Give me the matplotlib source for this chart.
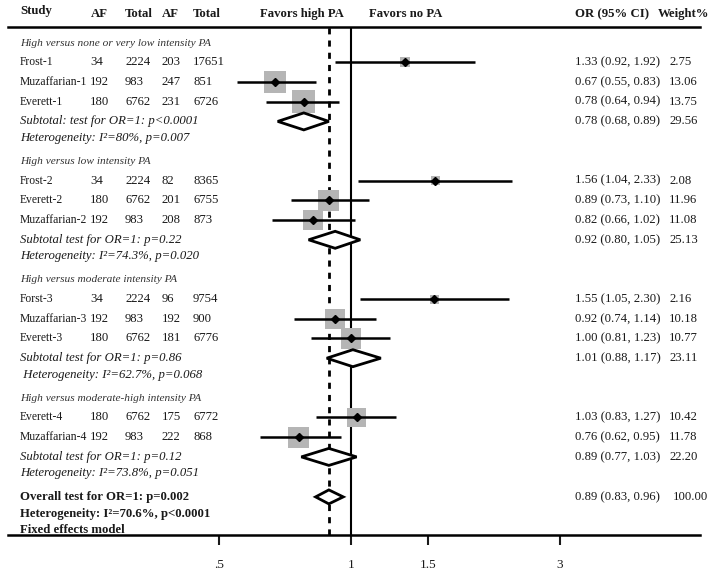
import matplotlib
matplotlib.use('Agg')
import matplotlib.pyplot as plt
from matplotlib.patches import Polygon
import numpy as np

plt.rcParams['font.family'] = ['Liberation Serif', 'DejaVu Serif']

# ---- data -------------------------------------------------------------
headings = [
    'High versus none or very low intensity PA',
    'High versus low intensity PA',
    'High versus moderate intensity PA',
    'High versus moderate-high intensity PA',
]
studies = [
    ['Frost-1', 'Muzaffarian-1', 'Everett-1'],
    ['Frost-2', 'Everett-2', 'Muzaffarian-2'],
    ['Forst-3', 'Muzaffarian-3', 'Everett-3'],
    ['Everett-4', 'Muzaffarian-4'],
]
af_high = [[34, 192, 180], [34, 180, 192], [34, 192, 180], [180, 192]]
tot_high = [[2224, 983, 6762], [2224, 6762, 983], [2224, 983, 6762], [6762, 983]]
af_no = [[203, 247, 231], [82, 201, 208], [96, 192, 181], [175, 222]]
tot_no = [[17651, 851, 6726], [8365, 6755, 873], [9754, 900, 6776], [6772, 868]]
odds = [[1.33, 0.67, 0.78], [1.56, 0.89, 0.82], [1.55, 0.92, 1.00], [1.03, 0.76]]
ci_lo = [[0.92, 0.55, 0.64], [1.04, 0.73, 0.66], [1.05, 0.74, 0.81], [0.83, 0.62]]
ci_hi = [[1.92, 0.83, 0.94], [2.33, 1.10, 1.02], [2.30, 1.14, 1.23], [1.27, 0.95]]
weights = [[2.75, 13.06, 13.75], [2.08, 11.96, 11.08], [2.16, 10.18, 10.77], [10.42, 11.78]]

sub_or = [0.78, 0.92, 1.01, 0.89]
sub_lo = [0.68, 0.80, 0.88, 0.77]
sub_hi = [0.89, 1.05, 1.17, 1.03]
sub_w = [29.56, 25.13, 23.11, 22.20]
sub_test = [
    'Subtotal: test for OR=1: p<0.0001',
    'Subtotal test for OR=1: p=0.22',
    'Subtotal test for OR=1: p=0.86',
    'Subtotal test for OR=1: p=0.12',
]
sub_het = [
    'Heterogeneity: I\u00b2=80%, p=0.007',
    'Heterogeneity: I\u00b2=74.3%, p=0.020',
    ' Heterogeneity: I\u00b2=62.7%, p=0.068',
    'Heterogeneity: I\u00b2=73.8%, p=0.051',
]

overall_or, overall_lo, overall_hi, overall_w = 0.89, 0.83, 0.96, 100.00
overall_lines = [
    'Overall test for OR=1: p=0.002',
    'Heterogeneity: I\u00b2=70.6%, p<0.0001',
    'Fixed effects model',
]

tick_vals = [0.5, 1, 1.5, 3]
tick_labels = ['.5', '1', '1.5', '3']

# ---- figure -----------------------------------------------------------
W, H = 720, 577
fig = plt.figure(figsize=(W / 100, H / 100), dpi=100)

# plotting axes: x in log OR, y in pixel rows
x0, x1, ytop, ybot = 8, 700, 27, 535
ax = fig.add_axes([x0 / W, (H - ybot) / H, (x1 - x0) / W, (ybot - ytop) / H])
px_per_log = 190.0
ax.set_xscale('log')
ax.set_xlim(np.exp((x0 - 351) / px_per_log), np.exp((x1 - 351) / px_per_log))
ax.set_ylim(ybot, ytop)
for s in ['left', 'right']:
    ax.spines[s].set_visible(False)
for s in ['top', 'bottom']:
    ax.spines[s].set_linewidth(1.8)
ax.set_yticks([])
ax.set_xticks(tick_vals)
ax.set_xticklabels(tick_labels)
ax.xaxis.set_minor_locator(matplotlib.ticker.NullLocator())
ax.tick_params(axis='x', direction='out', length=7, width=1.5, pad=10,
               labelsize=9.5, colors='#1a1a1a')
ax.patch.set_alpha(0)

# text overlay in pixel coordinates
tx = fig.add_axes([0, 0, 1, 1], zorder=-1)
tx.set_xlim(0, W)
tx.set_ylim(H, 0)
tx.axis('off')

TXT = '#1a1a1a'
FS = 9.2


def put(x, y, s, **kw):
    kw.setdefault('fontsize', FS)
    kw.setdefault('color', TXT)
    tx.text(x, y, s, va='center', ha='left', **kw)


# header
put(20, 11, 'Study', fontweight='bold')
for xh, lab in [(91, 'AF'), (125, 'Total'), (162, 'AF'), (193, 'Total'),
                (260, 'Favors high PA'), (369, 'Favors no PA'),
                (575, 'OR (95% CI)'), (658, 'Weight%')]:
    put(xh, 14, lab, fontweight='bold')

ax.axvline(1, color='black', lw=1.5, zorder=1)
ax.axvline(overall_or, color='black', lw=2, ls=(0, (2.2, 2.2)), zorder=1)

step = 19.7
y = 43
for g in range(len(headings)):
    put(20, y, headings[g], fontsize=8.2, fontstyle='italic', color='#333333')
    y += 19.3
    for i in range(len(studies[g])):
        put(20, y, studies[g][i], fontsize=8.4)
        put(90, y, str(af_high[g][i]))
        put(125, y, str(tot_high[g][i]))
        put(162, y, str(af_no[g][i]))
        put(193, y, str(tot_no[g][i]))
        put(575, y, '%.2f (%.2f, %.2f)' % (odds[g][i], ci_lo[g][i], ci_hi[g][i]))
        put(669, y, '%.2f' % weights[g][i])
        ax.hlines(y, ci_lo[g][i], ci_hi[g][i], color='black', lw=1.8, zorder=3)
        ax.scatter([odds[g][i]], [y], marker='s', s=19.3 * weights[g][i],
                   color='#b5b5b5', edgecolors='none', zorder=2)
        ax.plot([odds[g][i]], [y], marker='D', ms=3.6, color='black', zorder=4)
        y += step
    put(20, y, sub_test[g], fontstyle='italic')
    put(575, y, '%.2f (%.2f, %.2f)' % (sub_or[g], sub_lo[g], sub_hi[g]))
    put(669, y, '%.2f' % sub_w[g])
    hh = 8.5
    ax.add_patch(Polygon([(sub_lo[g], y), (sub_or[g], y - hh), (sub_hi[g], y),
                          (sub_or[g], y + hh)], closed=True, facecolor='white',
                         edgecolor='black', lw=2, zorder=3))
    y += 16.5
    put(20, y, sub_het[g], fontstyle='italic')
    y += 23.5

# overall
put(20, y, overall_lines[0], fontweight='bold')
put(575, y, '%.2f (%.2f, %.2f)' % (overall_or, overall_lo, overall_hi))
put(673, y, '%.2f' % overall_w)
hh = 7
ax.add_patch(Polygon([(overall_lo, y), (overall_or, y - hh), (overall_hi, y),
                      (overall_or, y + hh)], closed=True, facecolor='white',
                     edgecolor='black', lw=2, zorder=3))
put(20, y + 17.5, overall_lines[1], fontweight='bold')
put(20, y + 33.5, overall_lines[2], fontweight='bold')

fig.savefig('out.png', dpi=100)
